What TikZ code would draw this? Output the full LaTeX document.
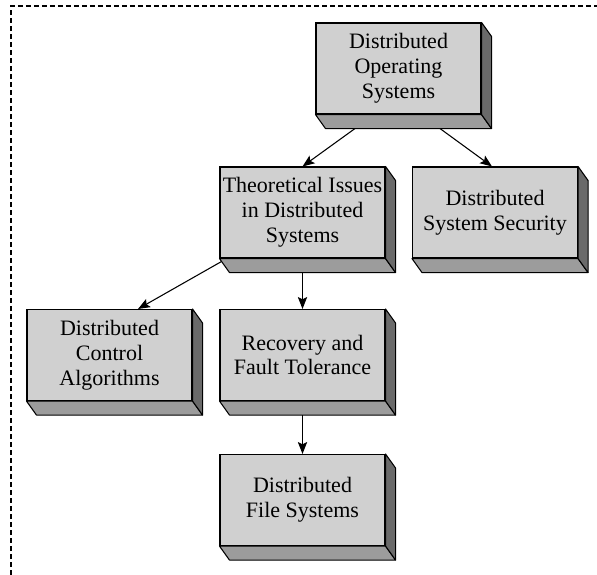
\documentclass[tikz,border=0pt]{standalone}
\usepackage{fontspec}
\setmainfont{Liberation Serif}
\usetikzlibrary{arrows.meta,calc}

\definecolor{frontgray}{HTML}{D0D0D0}
\definecolor{bottomgray}{HTML}{9C9C9C}
\definecolor{sidegray}{HTML}{6A6A6A}

\tikzset{
  block/.style={draw=black, line width=0.8pt, fill=frontgray,
    minimum width=123.75pt, minimum height=68.25pt, inner sep=0pt,
    align=center, font=\fontsize{16.5}{18.6}\selectfont},
  bottomface/.style={draw=black, line width=0.8pt, fill=bottomgray, line join=round},
  sideface/.style={draw=black, line width=0.8pt, fill=sidegray, line join=round},
  link/.style={line width=0.8pt, -{Stealth[length=9pt,width=7pt,inset=1.8pt]}},
  frame/.style={line width=0.8pt, dash pattern=on 4pt off 2pt}
}

\begin{document}
\begin{tikzpicture}[x=0.75pt,y=-0.75pt]
  \useasboundingbox (0,0) rectangle (597,575);

  % dashed frame, top and left edges
  \draw[frame] (11,575) -- (11,6) -- (597,6);

  % front faces of the blocks
  \node[block] (dos)  at (398.5,68.5) {Distributed\\Operating\\Systems};
  \node[block] (theo) at (302.5,212.5) {Theoretical Issues\\in Distributed\\Systems};
  \node[block] (sec)  at (495,212.5)   {Distributed\\System Security};
  \node[block] (ctrl) at (109.5,355)   {Distributed\\Control\\Algorithms};
  \node[block] (rec)  at (302.5,355)   {Recovery and\\Fault Tolerance};
  \node[block] (fs)   at (302.5,500)   {Distributed\\File Systems};

  % extruded bottom and right faces
  \foreach \b in {dos,theo,sec,ctrl,rec,fs}{
    \draw[bottomface] (\b.south west) -- (\b.south east)
      -- ($(\b.south east)+(10,14)$) -- ($(\b.south west)+(10,14)$) -- cycle;
    \draw[sideface] (\b.north east) -- ($(\b.north east)+(10,14)$)
      -- ($(\b.south east)+(10,14)$) -- (\b.south east) -- cycle;
  }

  % connectors
  \draw[link] ($(dos.south)+(-43.5,14)$) -- (theo.north);
  \draw[link] ($(dos.south)+(41.5,14)$) -- ($(sec.north)+(-3,0)$);
  \draw[link] ($(theo.south west)+(2,3)$) -- ($(ctrl.north)+(28.5,0)$);
  \draw[link] ($(theo.south)+(0,14)$) -- (rec.north);
  \draw[link] ($(rec.south)+(0,14)$) -- (fs.north);
\end{tikzpicture}
\end{document}
